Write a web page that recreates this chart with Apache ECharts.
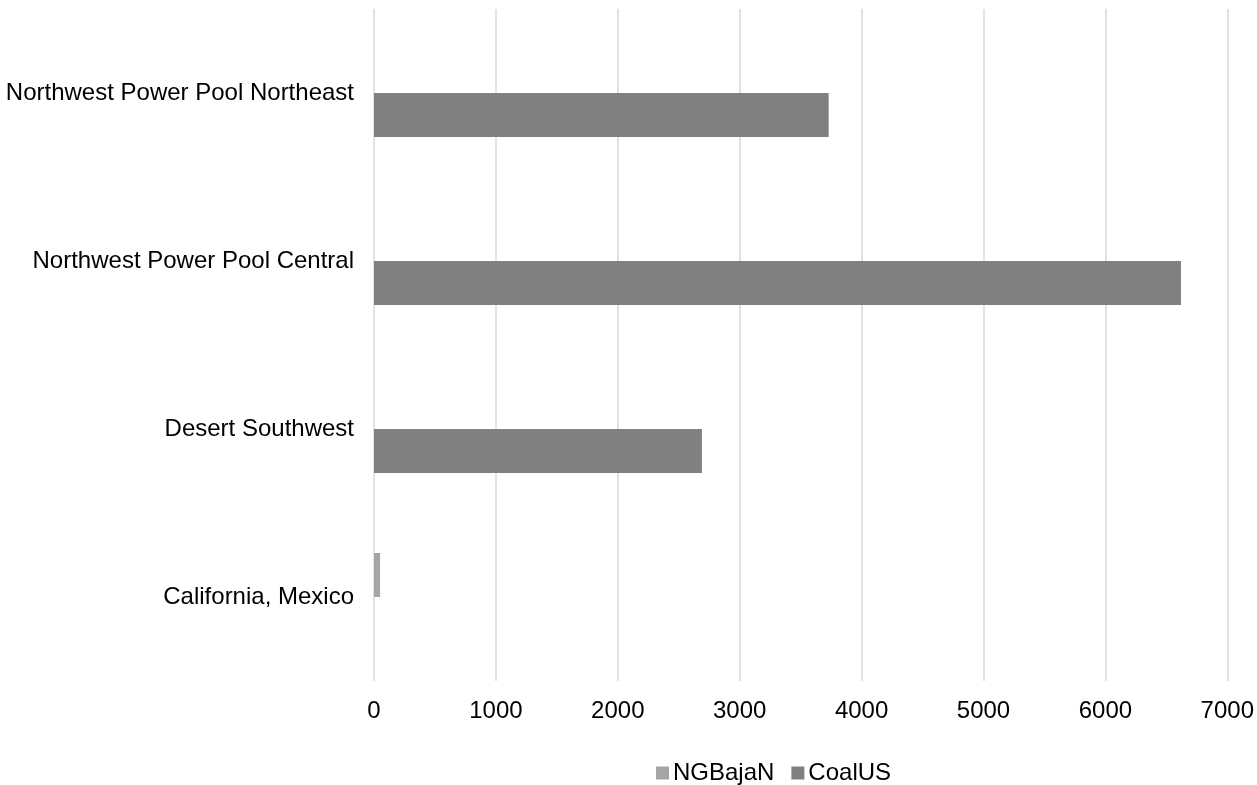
<!DOCTYPE html>
<html>
<head>
<meta charset="utf-8">
<script src="https://cdn.jsdelivr.net/npm/echarts@6/dist/echarts.min.js"></script>
<style>
  html, body { margin: 0; padding: 0; background: #ffffff; }
  #chart { width: 1257px; height: 785px; }
</style>
</head>
<body>
<div id="chart"></div>
<script>
// Regions, listed bottom to top along the category axis
const categories = ['California, Mexico', 'Desert Southwest', 'Northwest Power Pool Central', 'Northwest Power Pool Northeast'];
const ngBajaN = [50, null, null, null];
const coalUS = [null, 2690, 6620, 3730];
const xTicks = { min: 0, max: 7000, interval: 1000 };

const font = 'Liberation Sans, Arial, sans-serif';
const chart = echarts.init(document.getElementById('chart'), null, { renderer: 'canvas' });

chart.setOption({
  animation: false,
  backgroundColor: '#ffffff',
  grid: { left: 374, right: 26, top: 9, bottom: 104, containLabel: false },
  legend: {
    left: 651,
    top: 756,
    itemWidth: 13,
    itemHeight: 13,
    itemGap: 17,
    icon: 'rect',
    textStyle: { fontFamily: font, fontSize: 24, color: '#000000', padding: [0, 0, 0, -1] },
    data: ['NGBajaN', 'CoalUS']
  },
  xAxis: {
    type: 'value',
    min: xTicks.min,
    max: xTicks.max,
    interval: xTicks.interval,
    axisLine: { show: false },
    axisTick: { show: false },
    axisLabel: { fontFamily: font, fontSize: 24, color: '#000000', margin: 18, formatter: (v) => String(v) },
    splitLine: { show: true, lineStyle: { color: '#d9d9d9', width: 1.5 } }
  },
  yAxis: {
    type: 'category',
    data: categories,
    axisLine: { show: false },
    axisTick: { show: false },
    axisLabel: { fontFamily: font, fontSize: 24, color: '#000000', margin: 20 },
    splitLine: { show: false }
  },
  series: [
    {
      name: 'NGBajaN',
      type: 'bar',
      data: ngBajaN,
      barWidth: 44,
      barGap: '0%',
      itemStyle: { color: '#a5a5a5' }
    },
    {
      name: 'CoalUS',
      type: 'bar',
      data: coalUS,
      barWidth: 44,
      barGap: '0%',
      itemStyle: { color: '#808080' }
    }
  ]
});
</script>
</body>
</html>
